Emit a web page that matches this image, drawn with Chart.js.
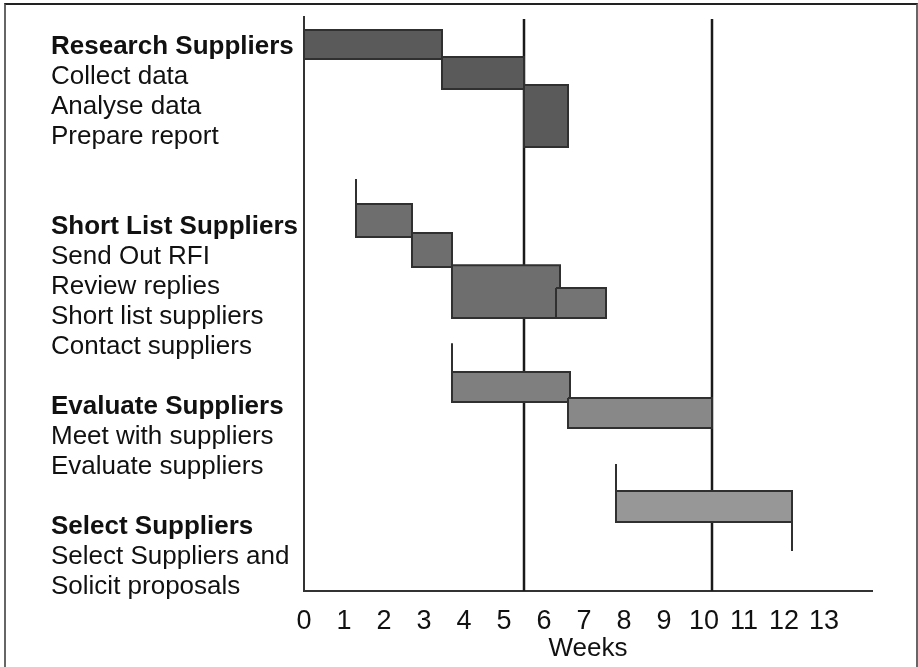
<!DOCTYPE html>
<html>
<head>
<meta charset="utf-8">
<script src="https://cdn.jsdelivr.net/npm/chart.js@4.4.1/dist/chart.umd.min.js"></script>
<style>
  html, body { margin: 0; padding: 0; background: #ffffff; }
  body { width: 918px; height: 667px; position: relative; overflow: hidden; }
  #frame { position: absolute; left: 4px; top: 3px; width: 910px; height: 720px;
           border-top: 2px solid #222; border-left: 2px solid #666; border-right: 2px solid #666; }
  #c { position: absolute; left: 0; top: 0; }
</style>
</head>
<body>
<div id="frame"></div>
<canvas id="c" width="918" height="667"></canvas>
<script>
// ---- data ----
const rowLabels = [
  'Research Suppliers', 'Collect data', 'Analyse data', 'Prepare report', '', '',
  'Short List Suppliers', 'Send Out RFI', 'Review replies', 'Short list suppliers', 'Contact suppliers', '',
  'Evaluate Suppliers', 'Meet with suppliers', 'Evaluate suppliers', '',
  'Select Suppliers', 'Select Suppliers and', 'Solicit proposals'
];
const headerRows = [0, 6, 12, 16];
const weekTicks = [0, 1, 2, 3, 4, 5, 6, 7, 8, 9, 10, 11, 12, 13];

const taskNames = ['Research Suppliers', 'Collect data', 'Analyse data', 'Send Out RFI', 'Review replies',
  'Short list suppliers', 'Contact suppliers', 'Meet with suppliers', 'Evaluate suppliers',
  'Select Suppliers and Solicit proposals'];
const taskStart = [0, 3.45, 5.5, 1.3, 2.7, 3.7, 6.3, 3.7, 6.6, 7.8];
const taskEnd   = [3.45, 5.5, 6.6, 2.7, 3.7, 6.4, 7.55, 6.65, 10.2, 12.2];
const taskRowFrom = [-0.57, 0.33, 1.27, 5.23, 6.2, 7.27, 8.03, 10.83, 11.7, 14.8];
const taskRowTo   = [0.4, 1.4, 3.33, 6.33, 7.33, 9.03, 9.03, 11.83, 12.7, 15.83];

const markerWeeks = [5.5, 10.2];

const stubWeek = [1.3, 3.7, 7.8, 12.2];
const stubRowFrom = [4.4, 9.87, 13.9, 15.83];
const stubRowTo   = [5.23, 10.83, 14.8, 16.8];

// ---- styles ----
const taskFill = ['#5a5a5a', '#5a5a5a', '#5a5a5a', '#6e6e6e', '#6e6e6e', '#6e6e6e', '#747474',
  '#7f7f7f', '#888888', '#979797'];
const edgeColor = '#303030';
const ROW_MIN = -1, ROW_MAX = 18.13, WEEK_MAX = 14.2;

Chart.defaults.font.family = "Arial, 'Liberation Sans', Helvetica, sans-serif";
Chart.defaults.color = '#111';

const datasets = [];
// vertical marker lines (drawn underneath)
markerWeeks.forEach((w, i) => {
  datasets.push({
    label: 'marker ' + w,
    data: [{x: w, y: ROW_MIN + 0.07}, {x: w, y: ROW_MAX}],
    borderColor: '#1a1a1a', borderWidth: 2.5, pointRadius: 0, fill: false,
    order: 1000 + i, clip: false
  });
});
// milestone stubs
stubWeek.forEach((w, i) => {
  datasets.push({
    label: 'stub ' + i,
    data: [{x: w, y: stubRowFrom[i]}, {x: w, y: stubRowTo[i]}],
    borderColor: edgeColor, borderWidth: 2, pointRadius: 0, fill: false,
    order: 500 + i, clip: false
  });
});
// task bars as closed rectangles in data space
taskNames.forEach((name, i) => {
  const x0 = taskStart[i], x1 = taskEnd[i], y0 = taskRowFrom[i], y1 = taskRowTo[i];
  datasets.push({
    label: name,
    data: [{x: x0, y: y0}, {x: x1, y: y0}, {x: x1, y: y1}, {x: x0, y: y1}, {x: x0, y: y0}],
    borderColor: edgeColor, backgroundColor: taskFill[i], borderWidth: 2,
    borderJoinStyle: 'miter', pointRadius: 0, fill: 'shape', tension: 0,
    order: taskNames.length - i, clip: false
  });
});

new Chart(document.getElementById('c'), {
  type: 'line',
  data: { datasets },
  options: {
    responsive: false,
    animation: false,
    devicePixelRatio: 1,
    layout: { padding: { left: 51, top: 17, right: 46, bottom: 0 } },
    plugins: { legend: { display: false }, tooltip: { enabled: false } },
    scales: {
      x: {
        type: 'linear', min: 0, max: WEEK_MAX,
        grid: { display: false },
        border: { display: true, color: '#333', width: 2 },
        afterBuildTicks: s => { s.ticks = weekTicks.map(v => ({ value: v })); },
        afterFit: s => { s.height = 76; },
        ticks: {
          autoSkip: false, maxRotation: 0, padding: 6,
          font: { size: 27 }, color: '#111',
          callback: v => String(v)
        },
        title: { display: true, text: 'Weeks', font: { size: 26 }, color: '#111',
                 padding: { top: 0, bottom: 3 } }
      },
      y: {
        type: 'linear', min: ROW_MIN, max: ROW_MAX, reverse: true,
        grid: { display: false },
        border: { display: true, color: '#333', width: 2 },
        afterBuildTicks: s => { s.ticks = rowLabels.map((t, i) => ({ value: i })); },
        afterFit: s => { s.width = 253; },
        ticks: {
          autoSkip: false, crossAlign: 'far', padding: 0, color: '#111',
          font: ctx => ({ size: 26, weight: headerRows.includes(ctx.tick && ctx.tick.value) ? 'bold' : 'normal' }),
          callback: v => rowLabels[v] || ''
        }
      }
    }
  }
});
</script>
</body>
</html>
